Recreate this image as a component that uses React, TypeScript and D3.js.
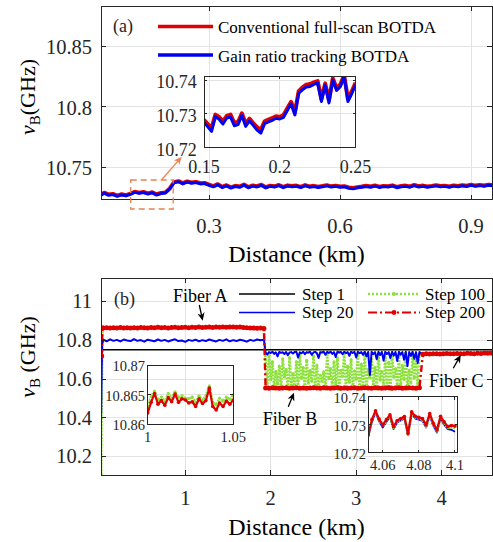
import React from 'react';
import * as d3 from 'd3';

const W = 493;
const H = 542;
const FONT = "'Liberation Serif', 'DejaVu Serif', 'Times New Roman', serif";
const RED = '#E00000';
const BLUE = '#0000F2';
const GREEN = '#8CE23A';
const ORANGE = '#E8834F';
const GRID = '#E3E3E3';
const AXIS = '#262626';

// ---------- panel (a) ----------
const aXTicks = [0.3, 0.6, 0.9];
const aYTicks = [10.75, 10.8, 10.85];
const aX = d3.range(91).map(i => 0.05 + i * 0.01);
const aBlue = [
  10.7262, 10.7285, 10.7268, 10.7274, 10.7259, 10.7271, 10.7263, 10.7276, 10.7292, 10.7284,
  10.7290, 10.7278, 10.7288, 10.7270, 10.7282, 10.7286, 10.7318, 10.7372, 10.7380, 10.7362,
  10.7378, 10.7368, 10.7374, 10.7362, 10.7365, 10.7350, 10.7338, 10.7355, 10.7332, 10.7346,
  10.7328, 10.7341, 10.7334, 10.7352, 10.7330, 10.7344, 10.7337, 10.7350, 10.7329, 10.7342,
  10.7336, 10.7348, 10.7331, 10.7345, 10.7339, 10.7343, 10.7332, 10.7347, 10.7335, 10.7341,
  10.7333, 10.7339, 10.7346, 10.7336, 10.7342, 10.7334, 10.7338, 10.7326, 10.7322, 10.7330,
  10.7334, 10.7341, 10.7335, 10.7344, 10.7333, 10.7340, 10.7336, 10.7345, 10.7331, 10.7339,
  10.7342, 10.7335, 10.7348, 10.7337, 10.7343, 10.7334, 10.7340, 10.7346, 10.7338, 10.7342,
  10.7335, 10.7344, 10.7339, 10.7347, 10.7341, 10.7350, 10.7342, 10.7348, 10.7343, 10.7351,
  10.7346,
];
const aRed = [
  10.7270, 10.7290, 10.7276, 10.7280, 10.7266, 10.7277, 10.7270, 10.7282, 10.7298, 10.7290,
  10.7296, 10.7285, 10.7294, 10.7277, 10.7288, 10.7292, 10.7325, 10.7378, 10.7386, 10.7369,
  10.7384, 10.7375, 10.7380, 10.7369, 10.7371, 10.7357, 10.7345, 10.7361, 10.7339, 10.7352,
  10.7335, 10.7347, 10.7341, 10.7358, 10.7337, 10.7350, 10.7344, 10.7356, 10.7336, 10.7348,
  10.7343, 10.7354, 10.7338, 10.7351, 10.7346, 10.7349, 10.7339, 10.7353, 10.7342, 10.7347,
  10.7340, 10.7345, 10.7352, 10.7343, 10.7348, 10.7341, 10.7344, 10.7333, 10.7329, 10.7336,
  10.7341, 10.7347, 10.7342, 10.7350, 10.7340, 10.7346, 10.7343, 10.7351, 10.7338, 10.7345,
  10.7349, 10.7342, 10.7354, 10.7344, 10.7349, 10.7341, 10.7346, 10.7352, 10.7345, 10.7348,
  10.7342, 10.7350, 10.7346, 10.7353, 10.7348, 10.7356, 10.7349, 10.7354, 10.7350, 10.7357,
  10.7352,
];

// inset of (a)
const iaXTicks = [0.15, 0.2, 0.25];
const iaYTicks = [10.72, 10.73, 10.74];
const iaX = d3.range(41).map(i => 0.15 + i * 0.0025);
const iaBlue = [
  10.7275, 10.7262, 10.7248, 10.7292, 10.7284, 10.7270, 10.7288, 10.7291, 10.7265, 10.7268,
  10.7296, 10.7263, 10.7279, 10.7266, 10.7252, 10.7243, 10.7271, 10.7276, 10.7281, 10.7287,
  10.7285, 10.7290, 10.7310, 10.7330, 10.7297, 10.7362, 10.7372, 10.7380, 10.7382, 10.7388,
  10.7392, 10.7337, 10.7385, 10.7333, 10.7401, 10.7370, 10.7381, 10.7413, 10.7337, 10.7360,
  10.7387,
];
const iaRed = [
  10.7282, 10.7270, 10.7258, 10.7298, 10.7291, 10.7278, 10.7294, 10.7298, 10.7273, 10.7276,
  10.7302, 10.7271, 10.7286, 10.7273, 10.7261, 10.7252, 10.7278, 10.7283, 10.7288, 10.7293,
  10.7291, 10.7297, 10.7317, 10.7336, 10.7305, 10.7368, 10.7379, 10.7387, 10.7389, 10.7394,
  10.7398, 10.7345, 10.7391, 10.7341, 10.7406, 10.7377, 10.7388, 10.7415, 10.7345, 10.7367,
  10.7393,
];

// ---------- panel (b) ----------
const bXTicks = [1, 2, 3, 4];
const bYTicks = [10.2, 10.4, 10.6, 10.8, 11];
const fiberAX = d3.range(48).map(i => 0.04 + i * 0.04);
const fiberBX = d3.range(46).map(i => 1.94 + i * 0.04);
const fiberBFineX = d3.range(91).map(i => 1.94 + i * 0.02);
const fiberCX = d3.range(21).map(i => 3.78 + i * 0.04);

const step1X = [0.016, 4.59];
const step1 = [10.752, 10.752];

const step20LeadX = [0.016, 0.022, 0.028];
const step20Lead = [10.42, 10.65, 10.78];
const step20A = [
  10.804, 10.796, 10.806, 10.798, 10.803, 10.795, 10.805, 10.800, 10.797, 10.807,
  10.798, 10.802, 10.794, 10.804, 10.800, 10.796, 10.805, 10.798, 10.803, 10.795,
  10.801, 10.806, 10.797, 10.800, 10.793, 10.803, 10.798, 10.804, 10.796, 10.802,
  10.797, 10.805, 10.800, 10.795, 10.803, 10.798, 10.806, 10.796, 10.802, 10.797,
  10.804, 10.800, 10.794, 10.803, 10.798, 10.805, 10.801, 10.804,
];
const step20B = [
  10.737, 10.728, 10.740, 10.735, 10.742, 10.731, 10.739, 10.718, 10.741, 10.736,
  10.739, 10.730, 10.741, 10.724, 10.738, 10.740, 10.733, 10.741, 10.742, 10.712,
  10.739, 10.734, 10.742, 10.729, 10.740, 10.737, 10.742, 10.726, 10.738, 10.741,
  10.735, 10.710, 10.740, 10.738, 10.742, 10.727, 10.741, 10.736, 10.742, 10.731,
  10.740, 10.715, 10.742, 10.737, 10.741, 10.729, 10.742, 10.735, 10.740, 10.721,
  10.742, 10.736, 10.741, 10.712, 10.742, 10.734, 10.740, 10.726, 10.742, 10.718,
  10.741, 10.622, 10.742, 10.729, 10.740, 10.703, 10.742, 10.725, 10.741, 10.696,
  10.742, 10.730, 10.740, 10.709, 10.742, 10.722, 10.741, 10.694, 10.742, 10.727,
  10.740, 10.700, 10.742, 10.668, 10.741, 10.720, 10.742, 10.705, 10.740, 10.684,
  10.741,
];
const step20C = [
  10.727, 10.730, 10.728, 10.731, 10.729, 10.730, 10.731, 10.732, 10.729, 10.731,
  10.732, 10.730, 10.731, 10.733, 10.731, 10.732, 10.733, 10.731, 10.734, 10.733, 10.734,
];

const step100LeadX = [0.016, 0.018, 0.022, 0.028, 0.034];
const step100Lead = [10.11, 10.2, 10.5, 10.75, 10.86];
const step100A = [
  10.866, 10.867, 10.865, 10.867, 10.866, 10.868, 10.866, 10.867, 10.865, 10.867,
  10.866, 10.868, 10.867, 10.866, 10.868, 10.867, 10.869, 10.867, 10.868, 10.866,
  10.868, 10.869, 10.867, 10.868, 10.869, 10.867, 10.869, 10.868, 10.870, 10.868,
  10.869, 10.870, 10.868, 10.870, 10.869, 10.871, 10.869, 10.870, 10.871, 10.869,
  10.870, 10.868, 10.867, 10.866, 10.865, 10.864, 10.866, 10.868,
];
const step100B = [
  10.700, 10.558, 10.722, 10.598, 10.690, 10.550, 10.640, 10.575, 10.668, 10.556,
  10.705, 10.612, 10.650, 10.548, 10.712, 10.570, 10.630, 10.557, 10.690, 10.559,
  10.725, 10.605, 10.660, 10.549, 10.698, 10.580, 10.645, 10.590, 10.718, 10.561,
  10.672, 10.557, 10.620, 10.590, 10.638, 10.550, 10.728, 10.603, 10.655, 10.558,
  10.690, 10.572, 10.710, 10.548, 10.646, 10.615, 10.730, 10.556, 10.668, 10.585,
  10.700, 10.558, 10.642, 10.600, 10.722, 10.549, 10.678, 10.568, 10.735, 10.556,
  10.650, 10.609, 10.705, 10.575, 10.662, 10.550, 10.728, 10.596, 10.640, 10.556,
  10.712, 10.565, 10.688, 10.548, 10.732, 10.610, 10.655, 10.570, 10.718, 10.556,
  10.670, 10.598, 10.736, 10.549, 10.648, 10.580, 10.725, 10.606, 10.695, 10.556,
  10.730,
];
const step100C = [
  10.728, 10.730, 10.729, 10.731, 10.730, 10.729, 10.731, 10.732, 10.730, 10.731,
  10.732, 10.730, 10.731, 10.733, 10.732, 10.731, 10.733, 10.732, 10.734, 10.733, 10.734,
];

const step200LeadX = [0.022, 0.03];
const step200Lead = [10.72, 10.865];
const step200A = [
  10.865, 10.866, 10.864, 10.866, 10.865, 10.867, 10.865, 10.866, 10.864, 10.866,
  10.865, 10.867, 10.866, 10.865, 10.867, 10.866, 10.868, 10.866, 10.867, 10.865,
  10.867, 10.868, 10.866, 10.867, 10.868, 10.866, 10.868, 10.867, 10.869, 10.867,
  10.868, 10.869, 10.867, 10.869, 10.868, 10.870, 10.868, 10.869, 10.870, 10.868,
  10.869, 10.867, 10.866, 10.865, 10.864, 10.863, 10.864, 10.862,
];
const step200B = [
  10.555, 10.554, 10.556, 10.555, 10.553, 10.555, 10.556, 10.554, 10.555, 10.556,
  10.554, 10.555, 10.553, 10.555, 10.556, 10.555, 10.554, 10.556, 10.555, 10.554,
  10.555, 10.556, 10.554, 10.555, 10.553, 10.555, 10.556, 10.554, 10.555, 10.556,
  10.555, 10.554, 10.556, 10.555, 10.553, 10.555, 10.556, 10.554, 10.555, 10.556,
  10.554, 10.555, 10.556, 10.555, 10.554, 10.556,
];
const step200C = [
  10.729, 10.731, 10.730, 10.732, 10.731, 10.730, 10.732, 10.733, 10.731, 10.732,
  10.733, 10.731, 10.732, 10.734, 10.733, 10.732, 10.734, 10.733, 10.735, 10.734, 10.735,
];

// inset 1 of (b): fiber A detail
const ib1XTicks = [1, 1.05];
const ib1YTicks = [10.86, 10.865, 10.87];
const ib1X = d3.range(26).map(i => 1 + i * 0.002);
const ib1Red = [
  10.8619, 10.8637, 10.8652, 10.8634, 10.8640, 10.8632, 10.8645, 10.8638, 10.8651, 10.8637,
  10.8643, 10.8641, 10.8636, 10.8638, 10.8630, 10.8643, 10.8635, 10.8640, 10.8661, 10.8630,
  10.8624, 10.8636, 10.8630, 10.8639, 10.8634, 10.8641,
];
const ib1Green = [
  10.8630, 10.8647, 10.8656, 10.8641, 10.8646, 10.8638, 10.8652, 10.8644, 10.8655, 10.8645,
  10.8648, 10.8644, 10.8643, 10.8646, 10.8637, 10.8648, 10.8641, 10.8648, 10.8665, 10.8637,
  10.8633, 10.8644, 10.8639, 10.8646, 10.8642, 10.8650,
];

// inset 2 of (b): fiber C detail
const ib2XTicks = [4.06, 4.08, 4.1];
const ib2YTicks = [10.72, 10.73, 10.74];
const ib2X = d3.range(25).map(i => 4.052 + i * 0.002);
const ib2Red = [
  10.7263, 10.7318, 10.7350, 10.7320, 10.7299, 10.7318, 10.7335, 10.7293, 10.7315, 10.7322,
  10.7329, 10.7269, 10.7346, 10.7330, 10.7326, 10.7322, 10.7299, 10.7340, 10.7305, 10.7281,
  10.7330, 10.7310, 10.7293, 10.7297, 10.7295,
];
const ib2Green = [
  10.7260, 10.7314, 10.7346, 10.7316, 10.7294, 10.7314, 10.7331, 10.7288, 10.7311, 10.7318,
  10.7325, 10.7264, 10.7341, 10.7326, 10.7322, 10.7318, 10.7292, 10.7336, 10.7300, 10.7276,
  10.7326, 10.7305, 10.7288, 10.7290, 10.7288,
];
const ib2Blue = [
  10.7258, 10.7310, 10.7345, 10.7312, 10.7290, 10.7310, 10.7328, 10.7284, 10.7308, 10.7315,
  10.7322, 10.7262, 10.7338, 10.7322, 10.7318, 10.7314, 10.7290, 10.7332, 10.7296, 10.7272,
  10.7322, 10.7300, 10.7284, 10.7282, 10.7275,
];

type Lin = d3.ScaleLinear<number, number>;
type Pt = [number, number];

const zip = (xs: number[], ys: number[]): Pt[] =>
  ys.map((v, i) => [xs[i], v] as Pt).filter(p => p[0] !== undefined);

function Grid({ x, y, xt, yt }: { x: Lin; y: Lin; xt: number[]; yt: number[] }) {
  const [x0, x1] = x.range();
  const [y1, y0] = y.range();
  return (
    <g stroke={GRID} strokeWidth={1} shapeRendering="crispEdges">
      {xt.map(t => <line key={'gx' + t} x1={x(t)} x2={x(t)} y1={y0} y2={y1} />)}
      {yt.map(t => <line key={'gy' + t} x1={x0} x2={x1} y1={y(t)} y2={y(t)} />)}
    </g>
  );
}

function Frame({ x, y, xt, yt, fs, len, xBase, yRight, yDy }:
  { x: Lin; y: Lin; xt: number[]; yt: number[]; fs: number; len: number; xBase: number; yRight: number; yDy: number }) {
  const [x0, x1] = x.range();
  const [y1, y0] = y.range();
  return (
    <g>
      <g stroke={AXIS} strokeWidth={1} shapeRendering="crispEdges" fill="none">
        <rect x={x0} y={y0} width={x1 - x0} height={y1 - y0} />
        {xt.map(t => (
          <g key={'tx' + t}>
            <line x1={x(t)} x2={x(t)} y1={y1} y2={y1 - len} />
            <line x1={x(t)} x2={x(t)} y1={y0} y2={y0 + len} />
          </g>
        ))}
        {yt.map(t => (
          <g key={'ty' + t}>
            <line x1={x0} x2={x0 + len} y1={y(t)} y2={y(t)} />
            <line x1={x1} x2={x1 - len} y1={y(t)} y2={y(t)} />
          </g>
        ))}
      </g>
      <g fontSize={fs} fill="#262626">
        {xt.map(t => (
          <text key={'lx' + t} x={x(t)} y={y1 + xBase} textAnchor="middle">{String(t)}</text>
        ))}
        {yt.map(t => (
          <text key={'ly' + t} x={yRight} y={y(t) + yDy} textAnchor="end">{String(t)}</text>
        ))}
      </g>
    </g>
  );
}

function arrow(x1: number, y1: number, x2: number, y2: number, len = 8, w = 3.6) {
  const L = Math.hypot(x2 - x1, y2 - y1);
  const ux = (x2 - x1) / L, uy = (y2 - y1) / L;
  const nx = -uy, ny = ux;
  const bx = x2 - ux * len, by = y2 - uy * len;
  const mx = x2 - ux * len * 0.7, my = y2 - uy * len * 0.7;
  return {
    shaft: `M${x1},${y1}L${mx},${my}`,
    head: `M${x2},${y2}L${bx + nx * w},${by + ny * w}L${mx},${my}L${bx - nx * w},${by - ny * w}Z`,
  };
}

function Arrow({ x1, y1, x2, y2, color }: { x1: number; y1: number; x2: number; y2: number; color: string }) {
  const a = arrow(x1, y1, x2, y2);
  return (
    <g>
      <path d={a.shaft} stroke={color} strokeWidth={1.3} fill="none" />
      <path d={a.head} fill={color} stroke="none" />
    </g>
  );
}

export default function App() {
  // panel (a)
  const xa = d3.scaleLinear().domain([0.0527, 0.948]).range([101, 492]);
  const ya = d3.scaleLinear().domain([10.7233, 10.8837]).range([199.5, 6]);
  const xia = d3.scaleLinear().domain([0.15, 0.25]).range([204, 355.5]);
  const yia = d3.scaleLinear().domain([10.72, 10.7413]).range([147.5, 76]);
  // panel (b)
  const xb = d3.scaleLinear().domain([0.014, 4.589]).range([101, 492]);
  const yb = d3.scaleLinear().domain([10.1056, 11.121]).range([475, 278.3]);
  const xib1 = d3.scaleLinear().domain([1, 1.05]).range([147.7, 233.3]);
  const yib1 = d3.scaleLinear().domain([10.86, 10.87]).range([424.3, 365]);
  const xib2 = d3.scaleLinear().domain([4.052, 4.1015]).range([368.3, 457.7]);
  const yib2 = d3.scaleLinear().domain([10.72, 10.74]).range([452.7, 396.7]);

  const mk = (x: Lin, y: Lin) => d3.line<Pt>().x(d => x(d[0])).y(d => y(d[1]));
  const la = mk(xa, ya), lia = mk(xia, yia), lb = mk(xb, yb), lib1 = mk(xib1, yib1), lib2 = mk(xib2, yib2);

  const s1 = zip(step1X, step1);
  const s20 = [...zip(step20LeadX, step20Lead), ...zip(fiberAX, step20A), ...zip(fiberBFineX, step20B), ...zip(fiberCX, step20C)];
  const s100 = [...zip(step100LeadX, step100Lead), ...zip(fiberAX, step100A), ...zip(fiberBFineX, step100B), ...zip(fiberCX, step100C)];
  const s200 = [...zip(step200LeadX, step200Lead), ...zip(fiberAX, step200A), ...zip(fiberBX, step200B), ...zip(fiberCX, step200C)];
  const ib1R = zip(ib1X, ib1Red), ib1G = zip(ib1X, ib1Green);
  const ib2R = zip(ib2X, ib2Red), ib2G = zip(ib2X, ib2Green), ib2B = zip(ib2X, ib2Blue);

  return (
    <svg width={W} height={H} viewBox={`0 0 ${W} ${H}`}
      style={{ position: 'absolute', left: 0, top: 0, background: '#fff', fontFamily: FONT }}>
      <defs>
        <clipPath id="ca"><rect x={101} y={6} width={391} height={193.5} /></clipPath>
        <clipPath id="cia"><rect x={204} y={76} width={151.5} height={71.5} /></clipPath>
        <clipPath id="cb"><rect x={101} y={278.3} width={391} height={196.7} /></clipPath>
        <clipPath id="cib1"><rect x={147.7} y={365} width={85.6} height={59.3} /></clipPath>
        <clipPath id="cib2"><rect x={368.3} y={396.7} width={89.4} height={56} /></clipPath>
      </defs>

      {/* ================= panel (a) ================= */}
      <Grid x={xa} y={ya} xt={aXTicks} yt={aYTicks} />
      <g clipPath="url(#ca)" fill="none" strokeLinejoin="round">
        <path d={la(zip(aX, aRed)) || ''} stroke={RED} strokeWidth={3.8} />
        <path d={la(zip(aX, aBlue)) || ''} stroke={BLUE} strokeWidth={3} />
      </g>
      <Frame x={xa} y={ya} xt={aXTicks} yt={aYTicks} fs={20.5} len={5} xBase={33.8} yRight={92} yDy={7.7} />

      <Grid x={xia} y={yia} xt={iaXTicks} yt={iaYTicks} />
      <g clipPath="url(#cia)" fill="none" strokeLinejoin="round">
        <path d={lia(zip(iaX, iaRed)) || ''} stroke={RED} strokeWidth={4} />
        <path d={lia(zip(iaX, iaBlue)) || ''} stroke={BLUE} strokeWidth={3} />
      </g>
      <Frame x={xia} y={yia} xt={iaXTicks} yt={iaYTicks} fs={18} len={3} xBase={25.8} yRight={196.7} yDy={8} />

      {/* zoom annotation */}
      <rect x={130.7} y={180} width={42.5} height={29} fill="none" stroke={ORANGE} strokeWidth={1.3} strokeDasharray="6,4" />
      <Arrow x1={161.5} y1={180} x2={181.7} y2={156.7} color={ORANGE} />

      <text x={113} y={31.5} fontSize={18} fill="#262626">(a)</text>
      <line x1={158} x2={213} y1={26.5} y2={26.5} stroke={RED} strokeWidth={3.5} />
      <text x={218} y={33} fontSize={17}>Conventional full-scan BOTDA</text>
      <line x1={158} x2={213} y1={55} y2={55} stroke={BLUE} strokeWidth={3.5} />
      <text x={218} y={61.5} fontSize={17}>Gain ratio tracking BOTDA</text>

      <text x={296.5} y={262} fontSize={24} textAnchor="middle">Distance (km)</text>
      <text transform="translate(35,97) rotate(-90)" fontSize={22} textAnchor="middle">
        <tspan fontStyle="italic">ν</tspan>
        <tspan fontSize={15} dy={5}>B</tspan>
        <tspan dy={-5}>(GHz)</tspan>
      </text>

      {/* ================= panel (b) ================= */}
      <Grid x={xb} y={yb} xt={bXTicks} yt={bYTicks} />
      <g clipPath="url(#cb)" fill="none" strokeLinejoin="round">
        <path d={lb(s100) || ''} stroke={GREEN} strokeWidth={2.6} strokeDasharray="2,1.2" />
        {s100.map((d, i) => <circle key={'g' + i} cx={xb(d[0])} cy={yb(d[1])} r={1.5} fill={GREEN} />)}
        <path d={lb(s20) || ''} stroke={BLUE} strokeWidth={2} />
        <path d={lb(s1) || ''} stroke="#000" strokeWidth={1.6} />
        <path d={lb(s200) || ''} stroke={RED} strokeWidth={2.4} strokeDasharray="7,3,2,3" />
        {s200.map((d, i) => <circle key={'r' + i} cx={xb(d[0])} cy={yb(d[1])} r={2.5} fill={RED} />)}
      </g>
      <Frame x={xb} y={yb} xt={bXTicks} yt={bYTicks} fs={20.5} len={5} xBase={30} yRight={92} yDy={6.6} />

      <Grid x={xib1} y={yib1} xt={ib1XTicks} yt={ib1YTicks} />
      <g clipPath="url(#cib1)" fill="none" strokeLinejoin="round">
        <path d={lib1(ib1G) || ''} stroke={GREEN} strokeWidth={2.6} strokeDasharray="2,1" />
        {ib1G.map((d, i) => <circle key={'g1' + i} cx={xib1(d[0])} cy={yib1(d[1])} r={1.5} fill={GREEN} />)}
        <path d={lib1(ib1R) || ''} stroke={RED} strokeWidth={2.2} />
        {ib1R.map((d, i) => <circle key={'r1' + i} cx={xib1(d[0])} cy={yib1(d[1])} r={1.8} fill={RED} />)}
      </g>
      <Frame x={xib1} y={yib1} xt={ib1XTicks} yt={ib1YTicks} fs={14.5} len={3} xBase={17.4} yRight={145} yDy={6} />

      <Grid x={xib2} y={yib2} xt={ib2XTicks} yt={ib2YTicks} />
      <g clipPath="url(#cib2)" fill="none" strokeLinejoin="round">
        <path d={lib2(ib2B) || ''} stroke={BLUE} strokeWidth={1.8} />
        <path d={lib2(ib2G) || ''} stroke={GREEN} strokeWidth={2.6} strokeDasharray="2,1" />
        <path d={lib2(ib2R) || ''} stroke={RED} strokeWidth={2.2} />
        {ib2R.map((d, i) => <circle key={'r2' + i} cx={xib2(d[0])} cy={yib2(d[1])} r={1.8} fill={RED} />)}
      </g>
      <Frame x={xib2} y={yib2} xt={ib2XTicks} yt={ib2YTicks} fs={14.5} len={3} xBase={17.3} yRight={366} yDy={6.3} />

      <text x={114} y={305.3} fontSize={18} fill="#262626">(b)</text>

      {/* legend (b) */}
      <line x1={239} x2={295} y1={294} y2={294} stroke="#000" strokeWidth={1.6} />
      <text x={302} y={299.5} fontSize={17}>Step 1</text>
      <line x1={239} x2={295} y1={312.5} y2={312.5} stroke={BLUE} strokeWidth={1.6} />
      <text x={302} y={318} fontSize={17}>Step 20</text>
      <line x1={368} x2={420} y1={294} y2={294} stroke={GREEN} strokeWidth={2.6} strokeDasharray="2,2" />
      <circle cx={394} cy={294} r={2} fill={GREEN} />
      <text x={425} y={299.5} fontSize={17}>Step 100</text>
      <line x1={368} x2={420} y1={312.5} y2={312.5} stroke={RED} strokeWidth={2.2} strokeDasharray="9,3,2,3" />
      <circle cx={394} cy={312.5} r={2.4} fill={RED} />
      <text x={425} y={318} fontSize={17}>Step 200</text>

      {/* fiber annotations */}
      <text x={173} y={301.7} fontSize={18}>Fiber A</text>
      <Arrow x1={199.3} y1={305} x2={202.7} y2={320.7} color="#000" />
      <text x={262.7} y={425} fontSize={18}>Fiber B</text>
      <Arrow x1={288.3} y1={406.7} x2={294} y2={392.7} color="#000" />
      <text x={429} y={386.7} fontSize={18}>Fiber C</text>
      <Arrow x1={453.3} y1={368.3} x2={460.7} y2={355} color="#000" />

      <text x={296.5} y={535} fontSize={24} textAnchor="middle">Distance (km)</text>
      <text transform="translate(35,357) rotate(-90)" fontSize={22} textAnchor="middle">
        <tspan fontStyle="italic">ν</tspan>
        <tspan fontSize={15} dy={5}>B</tspan>
        <tspan dy={-5}> (GHz)</tspan>
      </text>
    </svg>
  );
}
